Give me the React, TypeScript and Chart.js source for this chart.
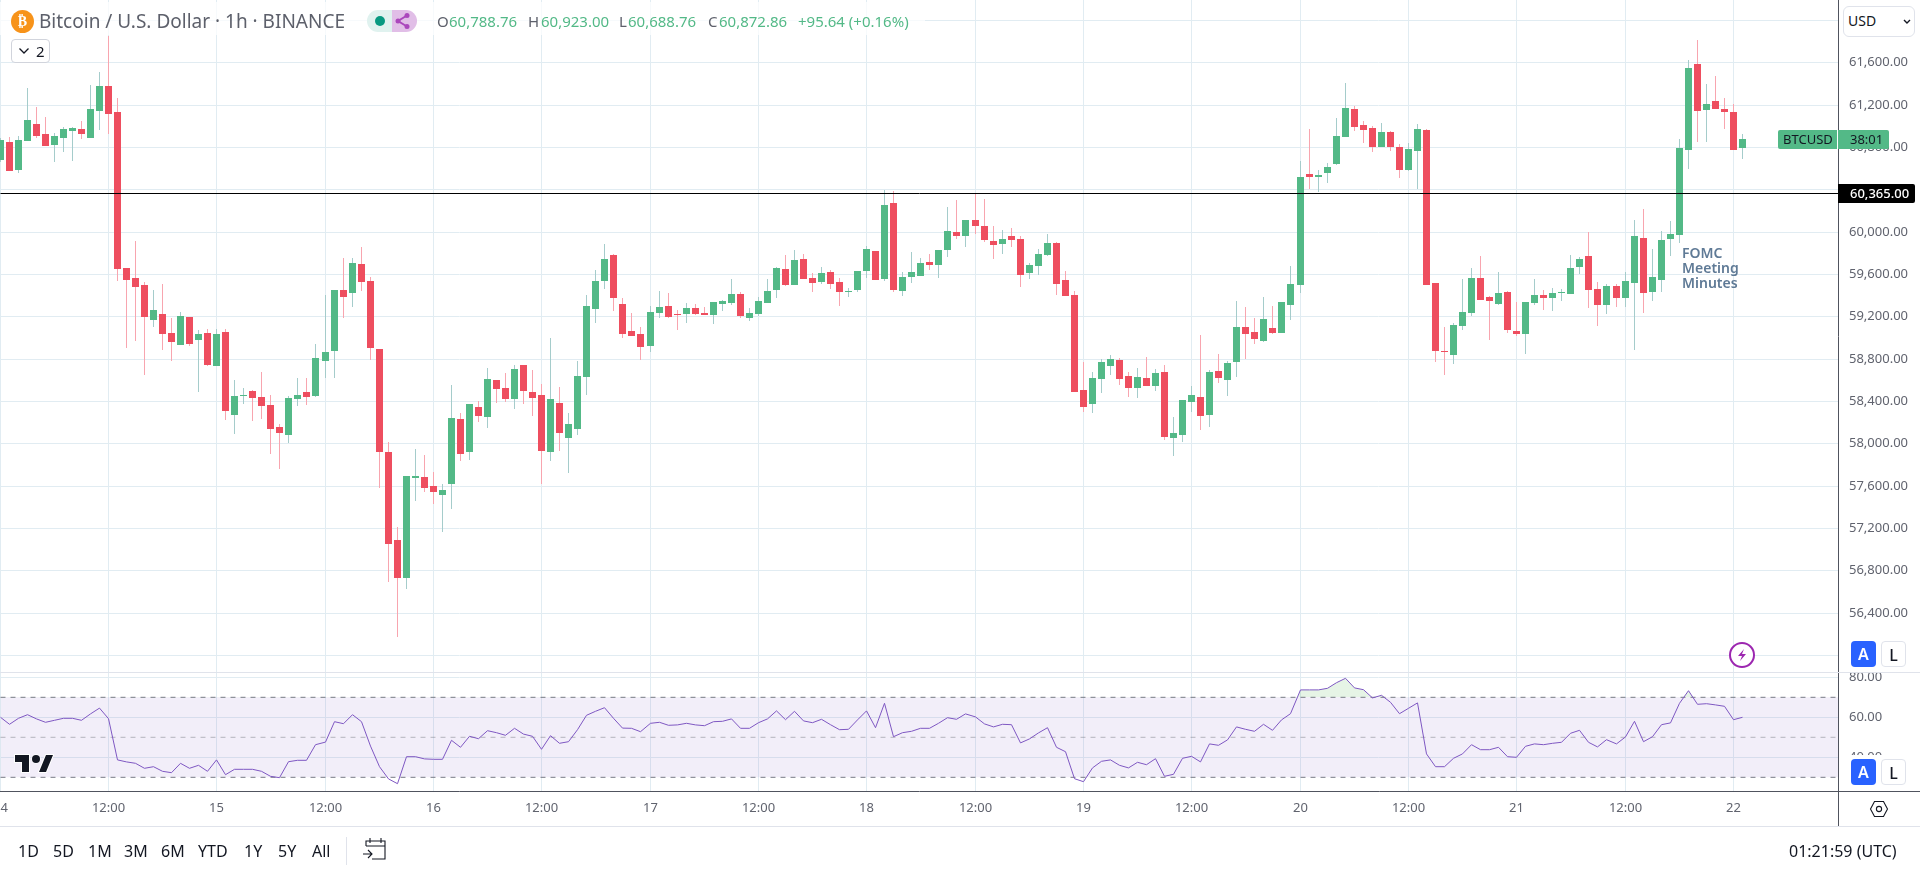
import React, { useEffect, useRef } from "react";
import { Chart, registerables, LinearScale } from "chart.js";

Chart.register(...registerables);

class SnapLinear extends LinearScale {
  static id = "snapLinear";
  static defaults = LinearScale.defaults;
  getPixelForValue(v: number) {
    const p = super.getPixelForValue(v);
    if (this.axis === "x") return Math.floor(p) + 0.5;
    return v === LEVEL ? Math.round(p) + 0.5 : Math.round(p);
  }
}
Chart.register(SnapLinear);

const LEVEL = 60365;
const X_MAX = 203.59;
const PRICE_MIN = 55839;
const PRICE_MAX = 62189;
const RSI_MIN = 23.15;
const RSI_MAX = 82.65;

const opens = [60677,60847,60583,60857,61017,60923,60818,60885,60951,60970,60885,61140,61376,61131,59657,59562,59496,59165,59222,59042,58929,59193,58976,59042,58731,59052,58268,58447,58494,58437,58362,58154,58079,58419,58485,58447,58778,58872,59449,59420,59694,59534,58891,57918,57087,56727,57672,57682,57597,57511,57616,58230,57918,58343,58249,58598,58523,58419,58740,58485,58456,57918,58381,58050,58135,58627,59269,59534,59779,59316,59061,59033,58920,59231,59298,59222,59222,59279,59231,59212,59316,59326,59411,59184,59222,59326,59449,59647,59496,59741,59562,59524,59619,59524,59430,59449,59628,59817,59552,60271,59439,59572,59581,59713,59685,59827,59997,59959,60110,60053,59912,59883,59959,59930,59609,59676,59779,59893,59543,59402,58504,58372,58608,58731,58787,58636,58523,58617,58542,58674,58050,58079,58391,58437,58268,58683,58598,58768,59099,59052,58967,59090,59042,59307,59496,60545,60516,60554,60639,60894,61159,61008,60980,60800,60942,60800,60583,60762,60961,59515,58872,58834,59109,59231,59562,59383,59316,59430,59061,59033,59326,59402,59373,59420,59411,59666,59770,59458,59307,59486,59373,59515,59940,59430,59543,59930,59968,60771,61584,61150,61235,61159,61131,60788.76];
const highs = [60885,60894,60904,61357,61178,61083,60932,60989,60989,61045,61386,61509,61849,61263,59657,59912,59524,59449,59505,59184,59241,59193,59071,59080,59080,59080,58598,58523,58504,58674,58456,58182,58447,58617,58617,58938,59402,59449,59751,59751,59855,59572,58891,58012,57210,57691,57947,57890,57729,57616,58551,58286,58372,58400,58712,58598,58664,58740,58740,58693,58561,58995,58532,58286,58778,59402,59638,59883,59789,59373,59231,59099,59298,59439,59420,59260,59326,59316,59288,59335,59354,59552,59430,59279,59383,59552,59666,59779,59827,59789,59609,59666,59638,59562,59468,59628,59864,59817,60393,60384,59619,59808,59751,59789,59827,60233,60299,60110,60365,60308,60053,60016,60035,59959,59704,59836,59978,59902,59628,59439,58768,58674,58797,58834,58806,58674,58712,58816,58702,58740,58249,58409,58542,59023,58693,58844,58778,59345,59288,59184,59383,59298,59335,59676,60668,60970,60583,60649,61074,61404,61187,61045,60998,61026,60951,60828,60838,61017,60970,59515,59099,59137,59552,59657,59770,59392,59619,59439,59335,59335,59552,59449,59468,59458,59779,59760,59997,59524,59505,59505,59619,60110,60214,59836,60006,60100,60876,61622,61811,61395,61471,61263,61206,60923];
const lows = [60658,60573,60554,60857,60885,60809,60658,60753,60668,60876,60885,60961,60923,59534,58901,58967,58645,59099,58882,58778,58929,58920,58485,58731,58731,58220,58088,58372,58211,58230,57899,57757,58003,58352,58362,58437,58617,58617,59184,59288,59439,58787,57578,56689,56169,56623,57455,57540,57427,57162,57379,57832,57842,58201,58145,58381,58391,58324,58372,58258,57616,57832,57927,57719,58079,58456,59137,59458,59250,58995,59014,58787,58863,59184,59184,59071,59137,59212,59212,59128,59250,59307,59184,59156,59203,59326,59373,59486,59496,59552,59430,59505,59458,59298,59383,59430,59562,59543,59534,59430,59392,59515,59581,59638,59562,59760,59930,59855,59978,59902,59741,59789,59855,59477,59552,59590,59770,59402,59392,58485,58296,58286,58475,58645,58551,58437,58428,58542,58494,58031,57880,58012,58296,58126,58154,58570,58447,58627,58797,58938,58957,59033,59042,59165,59420,60403,60374,60459,60630,60894,60951,60838,60753,60800,60762,60507,60573,60403,59496,58768,58645,58750,59071,59203,59354,58976,59307,59042,59014,58844,59307,59260,59250,59345,59411,59600,59279,59109,59222,59288,59288,58882,59231,59345,59430,59770,59893,60592,60847,60847,61159,60970,60771,60688.76];
const closes = [60866,60573,60866,61055,60904,60809,60904,60970,60980,60923,61159,61376,61112,59647,59543,59477,59193,59260,59033,58957,59203,58938,59033,58740,59033,58305,58447,58456,58428,58352,58135,58098,58428,58456,58437,58806,58863,59449,59383,59704,59524,58901,57918,57049,56727,57691,57691,57578,57540,57559,58239,57899,58372,58258,58608,58513,58419,58702,58494,58428,57927,58419,58098,58182,58636,59298,59534,59741,59373,59033,59014,58910,59241,59288,59193,59212,59279,59222,59212,59335,59345,59411,59203,59231,59345,59439,59657,59496,59732,59552,59515,59609,59505,59430,59439,59628,59836,59543,60252,59449,59572,59619,59704,59685,59827,60006,59959,60110,60053,59921,59874,59930,59921,59590,59685,59789,59893,59505,59392,58485,58343,58617,58768,58797,58608,58523,58627,58542,58664,58059,58098,58409,58456,58258,58674,58617,58759,59099,59033,58986,59175,59042,59335,59505,60516,60516,60535,60611,60904,61169,60989,60961,60800,60942,60800,60583,60781,60970,59496,58872,58863,59118,59241,59562,59354,59345,59420,59071,59033,59335,59402,59373,59420,59430,59657,59741,59449,59307,59486,59373,59534,59959,59420,59572,59921,59978,60790,61546,61140,61206,61159,61131,60771,60872.86];
const rsi = [60.0,56.5,59.5,61.3,59.2,57.5,58.5,59.5,59.5,58.5,61.7,64.6,59.3,38.7,37.7,37.0,34.5,35.3,33.0,32.3,37.0,34.5,36.0,33.0,38.7,31.3,34.0,34.0,34.0,33.0,30.5,29.8,37.8,38.5,38.5,46.3,47.6,57.8,56.8,61.3,57.8,45.6,35.3,29.2,26.8,40.3,40.3,39.2,39.0,39.0,48.5,45.0,50.5,49.3,53.3,52.3,51.0,54.5,51.6,50.5,44.0,50.8,47.0,47.8,53.8,61.0,63.0,64.8,59.5,54.6,54.5,52.8,57.0,57.5,56.0,56.2,57.0,56.2,55.8,57.8,58.0,59.2,54.5,54.5,57.3,59.2,63.2,58.8,63.0,58.2,57.3,59.0,56.3,53.8,54.0,58.7,63.2,54.8,67.0,50.3,52.3,53.0,54.5,54.5,57.0,59.8,59.0,61.7,60.2,56.7,55.2,56.5,56.3,47.2,49.2,52.2,54.8,45.0,42.8,29.3,27.8,34.7,38.0,38.7,36.0,34.7,37.5,36.3,39.3,30.5,31.5,39.5,40.5,37.7,46.7,46.0,48.7,55.2,54.0,53.0,56.5,53.5,58.7,61.8,73.7,73.7,73.7,74.5,77.3,79.5,74.7,73.8,69.7,71.0,67.5,61.8,64.5,67.2,41.7,35.3,35.3,39.5,41.7,46.3,43.8,43.8,45.0,40.3,40.0,45.5,46.7,46.3,47.0,47.5,52.0,53.5,47.5,45.2,48.8,46.7,50.2,58.0,47.8,50.3,56.3,57.2,67.0,73.3,66.5,66.8,66.2,65.5,58.8,60.0];

const priceTicks = [56000,56400,56800,57200,57600,58000,58400,58800,59200,59600,60000,60400,60800,61200,61600,62000];
const rsiTicks = [40,60,80];
const xTickLabels = ["14","12:00","15","12:00","16","12:00","17","12:00","18","12:00","19","12:00","20","12:00","21","12:00","22"];
const rsiUpper = 70;
const rsiMiddle = 50;
const rsiLower = 30;
const ranges: [string, number][] = [["1D",18],["5D",53],["1M",88],["3M",124],["6M",161],["YTD",198],["1Y",244],["5Y",278],["All",312]];

const UP = "#53b987";
const DOWN = "#ee4e5f";
const UP_WICK = "#a5cccb";
const DOWN_WICK = "#f8a5af";
const GRID = "#e1ecf2";
const AXIS = "#50535e";
const TEXT = "#60636e";
const FONT = "'Noto Sans', sans-serif";

const noPad = (w?: number, h?: number) => (s: any) => {
  s.paddingLeft = s.paddingRight = s.paddingTop = s.paddingBottom = 0;
  if (w !== undefined) s.width = w;
  if (h !== undefined) s.height = h;
};
const setTicks = (vals: number[]) => (s: any) => {
  s.ticks = vals.map((value) => ({ value }));
};
const hourTicks = xTickLabels.map((_, i) => i * 12);
const fmt = (v: number) => Number(v).toLocaleString("en-US", { minimumFractionDigits: 2, maximumFractionDigits: 2 });

const abs = (left: number, top: number, extra: React.CSSProperties = {}): React.CSSProperties => ({
  position: "absolute", left, top, whiteSpace: "nowrap", fontFamily: FONT, ...extra,
});

export default function App() {
  const priceRef = useRef<HTMLCanvasElement>(null);
  const rsiRef = useRef<HTMLCanvasElement>(null);

  useEffect(() => {
    document.body.style.margin = "0";
    const t = opens.map((_, i) => i);
    const isUp = (i: number) => closes[i] >= opens[i];
    const price = new Chart(priceRef.current!, {
      type: "bar",
      data: {
        datasets: [
          {
            type: "line",
            data: [{ x: 0, y: LEVEL }, { x: X_MAX, y: LEVEL }],
            borderColor: "#000",
            borderWidth: 1,
            pointRadius: 0,
          },
          {
            data: t.map((i) => ({ x: i, y: [Math.min(opens[i], closes[i]), Math.max(opens[i], closes[i])] })),
            backgroundColor: t.map((i) => (isUp(i) ? UP : DOWN)),
            barThickness: 7,
            grouped: false,
            inflateAmount: 0,
            borderSkipped: false,
          },
          {
            data: t.map((i) => ({ x: i, y: [lows[i], highs[i]] })),
            backgroundColor: t.map((i) => (isUp(i) ? UP_WICK : DOWN_WICK)),
            barThickness: 1,
            grouped: false,
            inflateAmount: 0,
            borderSkipped: false,
          },
        ] as any,
      },
      options: {
        animation: false,
        responsive: false,
        layout: { padding: 0 },
        plugins: { legend: { display: false }, tooltip: { enabled: false } },
        scales: {
          x: {
            type: "snapLinear" as any,
            min: 0,
            max: X_MAX,
            offset: false,
            afterBuildTicks: setTicks(hourTicks),
            afterFit: noPad(undefined, 0),
            grid: { color: GRID, drawTicks: false, offset: false },
            border: { display: false },
            ticks: { display: false },
          },
          y: {
            type: "snapLinear" as any,
            position: "right",
            min: PRICE_MIN,
            max: PRICE_MAX,
            afterBuildTicks: setTicks(priceTicks),
            afterFit: noPad(82),
            grid: { color: GRID, drawTicks: false },
            border: { display: true, color: AXIS },
            ticks: { padding: 11, autoSkip: false, color: TEXT, font: { family: FONT, size: 13 }, callback: (v: any) => fmt(v) },
          },
        },
      } as any,
    });

    const span = (y: number) => [{ x: 0, y }, { x: X_MAX, y }];
    const rsiChart = new Chart(rsiRef.current!, {
      type: "line",
      data: {
        datasets: [
          {
            data: t.map((i) => ({ x: i, y: rsi[i] })),
            borderColor: "#7e57c2",
            borderWidth: 1,
            pointRadius: 0,
            tension: 0,
            fill: { target: { value: rsiUpper }, above: "rgba(76,175,80,0.14)", below: "rgba(0,0,0,0)" },
          },
          {
            data: span(rsiMiddle),
            borderColor: "rgba(120,123,134,0.5)",
            borderWidth: 1,
            borderDash: [5, 5],
            pointRadius: 0,
          },
          {
            data: span(rsiLower),
            borderColor: "#787b86",
            borderWidth: 1,
            borderDash: [5, 5],
            pointRadius: 0,
          },
          {
            data: span(rsiUpper),
            borderColor: "#787b86",
            borderWidth: 1,
            borderDash: [5, 5],
            pointRadius: 0,
            fill: { target: { value: rsiLower }, above: "rgba(126,87,194,0.1)", below: "rgba(126,87,194,0.1)" },
          },
        ] as any,
      },
      options: {
        animation: false,
        responsive: false,
        layout: { padding: 0 },
        plugins: { legend: { display: false }, tooltip: { enabled: false } },
        scales: {
          x: {
            type: "snapLinear" as any,
            min: 0,
            max: X_MAX,
            afterBuildTicks: setTicks(hourTicks),
            afterFit: noPad(undefined, 35),
            grid: { color: GRID, drawTicks: false },
            border: { display: true, color: AXIS },
            ticks: {
              padding: 9,
              autoSkip: false,
              maxRotation: 0,
              minRotation: 0,
              color: TEXT,
              font: { family: FONT, size: 13 },
              callback: (v: any) => xTickLabels[Math.round(v / 12)],
            },
          },
          y: {
            type: "linear",
            position: "right",
            min: RSI_MIN,
            max: RSI_MAX,
            afterBuildTicks: setTicks(rsiTicks),
            afterFit: noPad(82),
            grid: { color: GRID, drawTicks: false },
            border: { display: true, color: AXIS },
            ticks: { padding: 11, autoSkip: false, color: TEXT, font: { family: FONT, size: 13 }, callback: (v: any) => fmt(v) },
          },
        },
      } as any,
    });
    return () => {
      price.destroy();
      rsiChart.destroy();
    };
  }, []);

  const green = { color: UP };
  const grey = { color: "#5d606b" };
  const ohlcFont = { fontSize: 15, lineHeight: "20px" };
  const btn = (left: number, top: number, blue: boolean, label: string) => (
    <div style={abs(left, top, {
      width: 25, height: 26, borderRadius: 4, textAlign: "center", lineHeight: "26px", fontSize: 16, fontWeight: blue ? 600 : 500,
      background: blue ? "#2962ff" : "#fff", color: blue ? "#fff" : "#131722",
      border: blue ? "none" : "1px solid #e0e3eb", boxSizing: "border-box",
    })}>{label}</div>
  );

  return (
    <div style={{ position: "absolute", left: 0, top: 0, width: 1920, height: 871, overflow: "hidden", background: "#fff" }}>
      <canvas ref={priceRef} width={1920} height={672} style={{ position: "absolute", left: 0, top: 0, width: 1920, height: 672 }} />
      <canvas ref={rsiRef} width={1920} height={154} style={{ position: "absolute", left: 0, top: 672, width: 1920, height: 154 }} />

      {/* pane separators and axis lines */}
      <div style={abs(0, 672, { width: 1920, height: 1, background: "#e0e3eb" })} />
      <div style={abs(1838, 791, { width: 82, height: 1, background: AXIS })} />
      <div style={abs(1838, 791, { width: 1, height: 35, background: AXIS })} />
      <div style={abs(0, 826, { width: 1920, height: 1, background: "#e0e3eb" })} />

      {/* legend row */}
      <div style={abs(0, 2, { width: 925, height: 33, background: "rgba(255,255,255,0.72)" })} />
      <div style={abs(11, 10, { width: 23, height: 23, borderRadius: 12, background: "#f7931a", color: "#fff", fontFamily: "'DejaVu Sans'", fontWeight: 700, fontSize: 14, lineHeight: "23px", textAlign: "center" })}>₿</div>
      <div style={abs(39, 9, { fontSize: 19, lineHeight: "25px", color: "#5d606b" })}>Bitcoin / U.S. Dollar · 1h · BINANCE</div>
      <div style={abs(367, 10, { width: 25, height: 22, background: "#e0f2ef", borderRadius: "11px 0 0 11px" })} />
      <div style={abs(375, 16, { width: 10, height: 10, background: "#089981", borderRadius: 5 })} />
      <div style={abs(392, 10, { width: 25, height: 22, background: "#e1bee7", borderRadius: "0 11px 11px 0" })} />
      <svg style={abs(394, 12)} width="18" height="18" viewBox="0 0 18 18">
        <path d="M13 3.5 L4 9 L13 14.5" fill="none" stroke="#ab47bc" strokeWidth="2" />
        <circle cx="13" cy="3.5" r="2.5" fill="#ab47bc" /><circle cx="4" cy="9" r="2.5" fill="#ab47bc" /><circle cx="13" cy="14.5" r="2.5" fill="#ab47bc" />
      </svg>

      <div style={abs(437, 11, { ...ohlcFont, ...grey })}>O</div>
      <div style={abs(449, 11, { ...ohlcFont, ...green })}>60,788.76</div>
      <div style={abs(528, 11, { ...ohlcFont, ...grey })}>H</div>
      <div style={abs(541, 11, { ...ohlcFont, ...green })}>60,923.00</div>
      <div style={abs(619, 11, { ...ohlcFont, ...grey })}>L</div>
      <div style={abs(628, 11, { ...ohlcFont, ...green })}>60,688.76</div>
      <div style={abs(708, 11, { ...ohlcFont, ...grey })}>C</div>
      <div style={abs(719, 11, { ...ohlcFont, ...green })}>60,872.86</div>
      <div style={abs(798, 11, { ...ohlcFont, ...green })}>+95.64 (+0.16%)</div>

      {/* collapse button */}
      <div style={abs(11, 39, { width: 39, height: 24, border: "1px solid #d1d4dc", borderRadius: 4, boxSizing: "border-box", background: "rgba(255,255,255,0.8)" })} />
      <svg style={abs(18, 46)} width="12" height="10" viewBox="0 0 12 10"><path d="M1.5 2.5 L6 7 L10.5 2.5" fill="none" stroke="#131722" strokeWidth="1.3" /></svg>
      <div style={abs(36, 41, { fontSize: 15, lineHeight: "20px", color: "#131722" })}>2</div>

      {/* price axis controls */}
      <div style={abs(1839, 1, { width: 81, height: 40, background: "#fff" })} />
      <div style={abs(1843, 6, { width: 72, height: 31, border: "1px solid #e0e3eb", borderRadius: 6, boxSizing: "border-box" })} />
      <div style={abs(1848, 11, { fontSize: 14, lineHeight: "20px", color: "#131722" })}>USD</div>
      <svg style={abs(1902, 18)} width="10" height="8" viewBox="0 0 10 8"><path d="M2 2 L5 5 L8 2" fill="none" stroke="#131722" strokeWidth="1.4" /></svg>

      <div style={abs(1778, 130, { width: 111, height: 19, background: UP, borderRadius: 2 })} />
      <div style={abs(1837, 130, { width: 1, height: 19, background: "#fff" })} />
      <div style={abs(1783, 130, { fontSize: 13, lineHeight: "19px", color: "#131722" })}>BTCUSD</div>
      <div style={abs(1850, 130, { fontSize: 13, lineHeight: "19px", color: "#131722" })}>38:01</div>

      <div style={abs(1838, 184, { width: 77, height: 19, background: "#000", borderRadius: "0 2px 2px 0" })} />
      <div style={abs(1850, 184, { fontSize: 13, lineHeight: "19px", color: "#fff", fontWeight: 500 })}>60,365.00</div>

      {/* annotation */}
      <div style={abs(1682, 245, { fontSize: 14, lineHeight: "15px", color: "#5f7a96", fontWeight: 600 })}>FOMC<br />Meeting<br />Minutes</div>

      {/* lightning */}
      <div style={abs(1729, 642, { width: 26, height: 26, borderRadius: 13, border: "2px solid #9c27b0", boxSizing: "border-box", background: "#fff" })} />
      <svg style={abs(1735, 648)} width="14" height="14" viewBox="0 0 14 14"><path d="M9 1 L3 8 L7 8 L5 13 L11 6 L7 6 Z" fill="#9c27b0" /></svg>

      {/* scale buttons */}
      <div style={abs(1840, 640, { width: 78, height: 28, background: "#fff" })} />
      {btn(1851, 641, true, "A")}
      {btn(1881, 641, false, "L")}
      <div style={abs(1840, 755, { width: 78, height: 33, background: "#fff" })} />
      {btn(1851, 759, true, "A")}
      {btn(1881, 759, false, "L")}

      {/* logo */}
      <svg style={abs(13, 752)} width="41" height="24" viewBox="0 0 41 24">
        <path d="M2 3 H16 V20 H9 V10 H2 Z M26 20 L33 3 H40 L33 20 Z" fill="#131722" stroke="#fff" strokeWidth="2" paintOrder="stroke" />
        <circle cx="23" cy="7" r="4" fill="#131722" stroke="#fff" strokeWidth="1.5" paintOrder="stroke" />
      </svg>

      {/* settings hexagon */}
      <svg style={abs(1869, 800)} width="20" height="18" viewBox="0 0 20 18">
        <path d="M5.5 1.5 H14.5 L18.5 9 L14.5 16.5 H5.5 L1.5 9 Z" fill="none" stroke="#131722" strokeWidth="1.1" />
        <circle cx="10" cy="9" r="2.6" fill="none" stroke="#131722" strokeWidth="1.1" />
      </svg>

      {/* bottom bar */}
      {ranges.map(([label, x]) => (
        <div key={label} style={abs(x, 840, { fontSize: 16, lineHeight: "22px", color: "#131722" })}>{label}</div>
      ))}
      <div style={abs(346, 837, { width: 1, height: 28, background: "#e0e3eb" })} />
      <svg style={abs(362, 838)} width="26" height="24" viewBox="0 0 26 24">
        <path d="M4 8 V3 H23 V21 H10 M4 8 H23 M8 0 V5 M19 0 V5 M1 16 H10 M6 12 L10 16 L6 20" fill="none" stroke="#131722" strokeWidth="1.1" />
      </svg>
      <div style={abs(1789, 840, { fontSize: 16, lineHeight: "22px", color: "#131722" })}>01:21:59 (UTC)</div>
    </div>
  );
}
